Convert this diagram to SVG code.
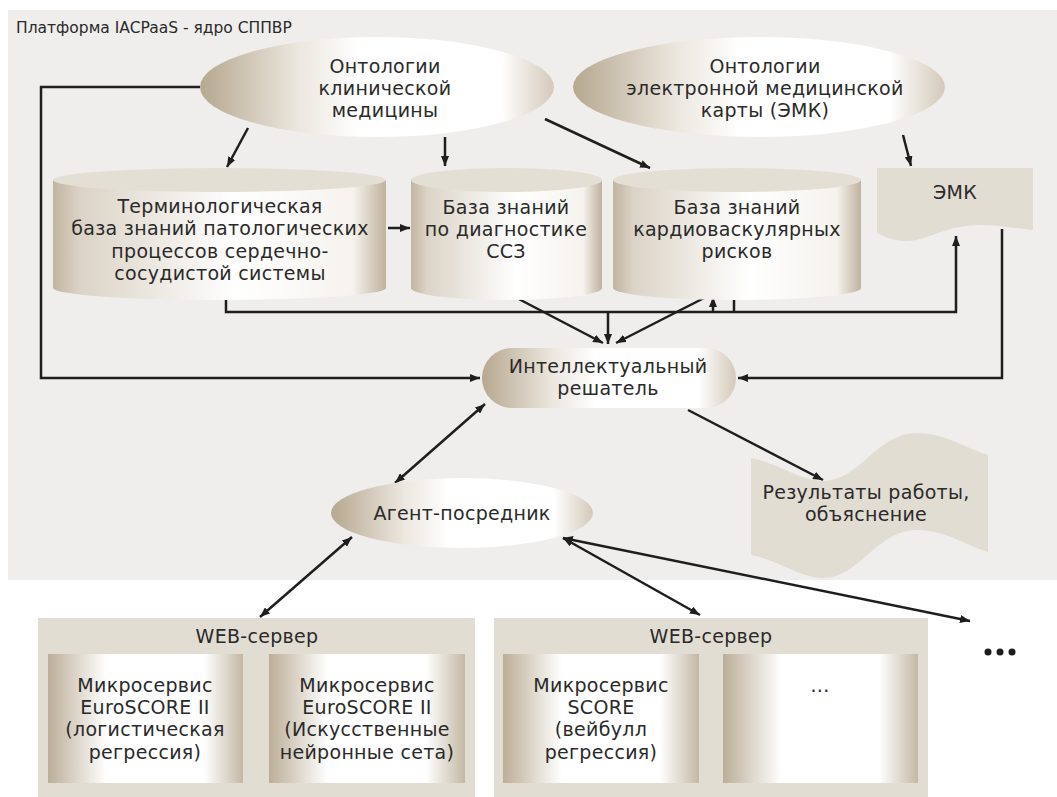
<svg xmlns="http://www.w3.org/2000/svg" width="1057" height="797" viewBox="0 0 1057 797">
<style>
.t{font-family:"DejaVu Sans","Liberation Sans",sans-serif;font-size:19px;letter-spacing:0.3px;fill:#2a2a2a;text-anchor:middle}
.title{font-family:"DejaVu Sans","Liberation Sans",sans-serif;font-size:15.5px;fill:#2a2a2a}
.ln{fill:none;stroke:#1e1e1e;stroke-width:2.5}
.beige{fill:#e2ddd3}
.cap{fill:#e4dfd5}
</style>
<defs>
<linearGradient id="gEll" x1="0" y1="0" x2="1" y2="0">
<stop offset="0" stop-color="#b6a890"/>
<stop offset="0.28" stop-color="#ece7df"/>
<stop offset="0.45" stop-color="#ffffff"/>
<stop offset="0.85" stop-color="#ffffff"/>
<stop offset="1" stop-color="#d3c9b9"/>
</linearGradient>
<linearGradient id="gCyl" x1="0" y1="0" x2="1" y2="0">
<stop offset="0" stop-color="#c1b4a0"/>
<stop offset="0.08" stop-color="#dbd3c6"/>
<stop offset="0.55" stop-color="#ffffff"/>
<stop offset="0.9" stop-color="#f6f3ee"/>
<stop offset="1" stop-color="#bfb29d"/>
</linearGradient>
<linearGradient id="gBox" x1="0" y1="0" x2="1" y2="0">
<stop offset="0" stop-color="#bcae98"/>
<stop offset="0.3" stop-color="#ffffff"/>
<stop offset="0.8" stop-color="#ffffff"/>
<stop offset="1" stop-color="#c4b8a4"/>
</linearGradient>
<marker id="ah" viewBox="0 0 10 8" refX="10" refY="4" markerWidth="10" markerHeight="8" markerUnits="userSpaceOnUse" orient="auto-start-reverse">
<path d="M0,0 L10,4 L0,8 Z" fill="#1e1e1e"/>
</marker>
</defs>

<rect x="8" y="10" width="1049" height="570" fill="#efeeec"/>
<text class="title" x="16" y="33">Платформа IACPaaS - ядро СППВР</text>

<g id="connectors">
<path class="ln" d="M200,87 H41 V378 H480" marker-end="url(#ah)"/>
<path class="ln" d="M248,128 L227,167" marker-end="url(#ah)"/>
<path class="ln" d="M445,137 V166" marker-end="url(#ah)"/>
<path class="ln" d="M545,119 L650,168" marker-end="url(#ah)"/>
<path class="ln" d="M903,135 L911,166" marker-end="url(#ah)"/>
<path class="ln" d="M388,228 H410" marker-end="url(#ah)"/>
<path class="ln" d="M226,298 V312 H956 V236" marker-end="url(#ah)"/>
<path class="ln" d="M608,312 V344" marker-end="url(#ah)"/>
<path class="ln" d="M513,296 L603,343" marker-end="url(#ah)"/>
<path class="ln" d="M708,296 L616,343" marker-end="url(#ah)"/>
<path class="ln" d="M713,312 V297" marker-end="url(#ah)"/>
<path class="ln" d="M734,296 V312"/>
<path class="ln" d="M1002,229 V378 H738" marker-end="url(#ah)"/>
<path class="ln" d="M485,404 L395,483" marker-start="url(#ah)" marker-end="url(#ah)"/>
<path class="ln" d="M688,410 L823,480" marker-end="url(#ah)"/>
<path class="ln" d="M352,537 L260,617" marker-start="url(#ah)" marker-end="url(#ah)"/>
<path class="ln" d="M563,538 L700,615" marker-start="url(#ah)" marker-end="url(#ah)"/>
<path class="ln" d="M563,538 L970,621" marker-start="url(#ah)" marker-end="url(#ah)"/>
</g>

<g id="ont-clin">
<ellipse cx="377" cy="87" rx="177" ry="50" fill="url(#gEll)"/>
<text class="t" x="385" y="72.8">Онтологии</text>
<text class="t" x="385" y="95">клинической</text>
<text class="t" x="385" y="117.2">медицины</text>
</g>

<g id="ont-emk">
<ellipse cx="759" cy="87" rx="186" ry="50" fill="url(#gEll)"/>
<text class="t" x="765" y="72.8">Онтологии</text>
<text class="t" x="765" y="95">электронной медицинской</text>
<text class="t" x="765" y="117.2">карты (ЭМК)</text>
</g>

<g id="kb-term">
<path d="M53,180 V288 A166.5,12 0 0 0 386,288 V180 Z" fill="url(#gCyl)"/>
<ellipse class="cap" cx="219.5" cy="180" rx="166.5" ry="12"/>
<text class="t" x="220" y="213.2">Терминологическая</text>
<text class="t" x="220" y="235.4">база знаний патологических</text>
<text class="t" x="220" y="257.6">процессов сердечно-</text>
<text class="t" x="220" y="279.8">сосудистой системы</text>
</g>

<g id="kb-diag">
<path d="M411,180 V288 A95.5,12 0 0 0 602,288 V180 Z" fill="url(#gCyl)"/>
<ellipse class="cap" cx="506.5" cy="180" rx="95.5" ry="12"/>
<text class="t" x="506" y="213.5">База знаний</text>
<text class="t" x="506" y="235.7">по диагностике</text>
<text class="t" x="506" y="257.9">ССЗ</text>
</g>

<g id="kb-risk">
<path d="M613,180 V288 A124,12 0 0 0 861,288 V180 Z" fill="url(#gCyl)"/>
<ellipse class="cap" cx="737" cy="180" rx="124" ry="12"/>
<text class="t" x="737" y="213.5">База знаний</text>
<text class="t" x="737" y="235.7">кардиоваскулярных</text>
<text class="t" x="737" y="257.9">рисков</text>
</g>

<g id="emk">
<path class="beige" d="M877,168 H1033 V230 C1010,228 988,223 966,226 C940,229 925,242 903,241 C890,240 884,236 877,233 Z"/>
<text class="t" x="955" y="199">ЭМК</text>
</g>

<g id="solver">
<rect x="482" y="348" width="254" height="60" rx="30" ry="30" fill="url(#gEll)"/>
<text class="t" x="608" y="372.5">Интеллектуальный</text>
<text class="t" x="608" y="394.7">решатель</text>
</g>

<g id="results">
<path class="beige" d="M751,458 C780,464 800,481 823,481 C860,481 876,433 917,433 C945,433 965,448 988,455 L988,552 C965,545 945,530 917,530 C876,530 860,578 823,578 C800,578 780,561 751,555 Z"/>
<text class="t" x="866" y="499">Результаты работы,</text>
<text class="t" x="866" y="521.2">объяснение</text>
</g>

<g id="agent">
<ellipse cx="462" cy="513" rx="131" ry="35" fill="url(#gEll)"/>
<text class="t" x="462" y="520">Агент-посредник</text>
</g>

<g id="web1">
<rect class="beige" x="38" y="618" width="437" height="179"/>
<text class="t" x="257" y="643">WEB-сервер</text>
<rect x="48" y="654" width="195" height="129" fill="url(#gBox)"/>
<text class="t" x="145" y="692">Микросервис</text>
<text class="t" x="145" y="714.2">EuroSCORE II</text>
<text class="t" x="145" y="736.4">(логистическая</text>
<text class="t" x="145" y="758.6">регрессия)</text>
<rect x="269" y="654" width="196" height="129" fill="url(#gBox)"/>
<text class="t" x="367" y="692">Микросервис</text>
<text class="t" x="367" y="714.2">EuroSCORE II</text>
<text class="t" x="367" y="736.4">(Искусственные</text>
<text class="t" x="367" y="758.6">нейронные сета)</text>
</g>

<g id="web2">
<rect class="beige" x="494" y="618" width="434" height="179"/>
<text class="t" x="711" y="643">WEB-сервер</text>
<rect x="503" y="654" width="196" height="129" fill="url(#gBox)"/>
<text class="t" x="601" y="692">Микросервис</text>
<text class="t" x="601" y="714.2">SCORE</text>
<text class="t" x="601" y="736.4">(вейбулл</text>
<text class="t" x="601" y="758.6">регрессия)</text>
<rect x="723" y="654" width="195" height="129" fill="url(#gBox)"/>
<text class="t" x="820" y="692">...</text>
</g>

<g id="more">
<circle cx="988" cy="652" r="3.5" fill="#1e1e1e"/>
<circle cx="1000" cy="652" r="3.5" fill="#1e1e1e"/>
<circle cx="1012" cy="652" r="3.5" fill="#1e1e1e"/>
</g>
</svg>
